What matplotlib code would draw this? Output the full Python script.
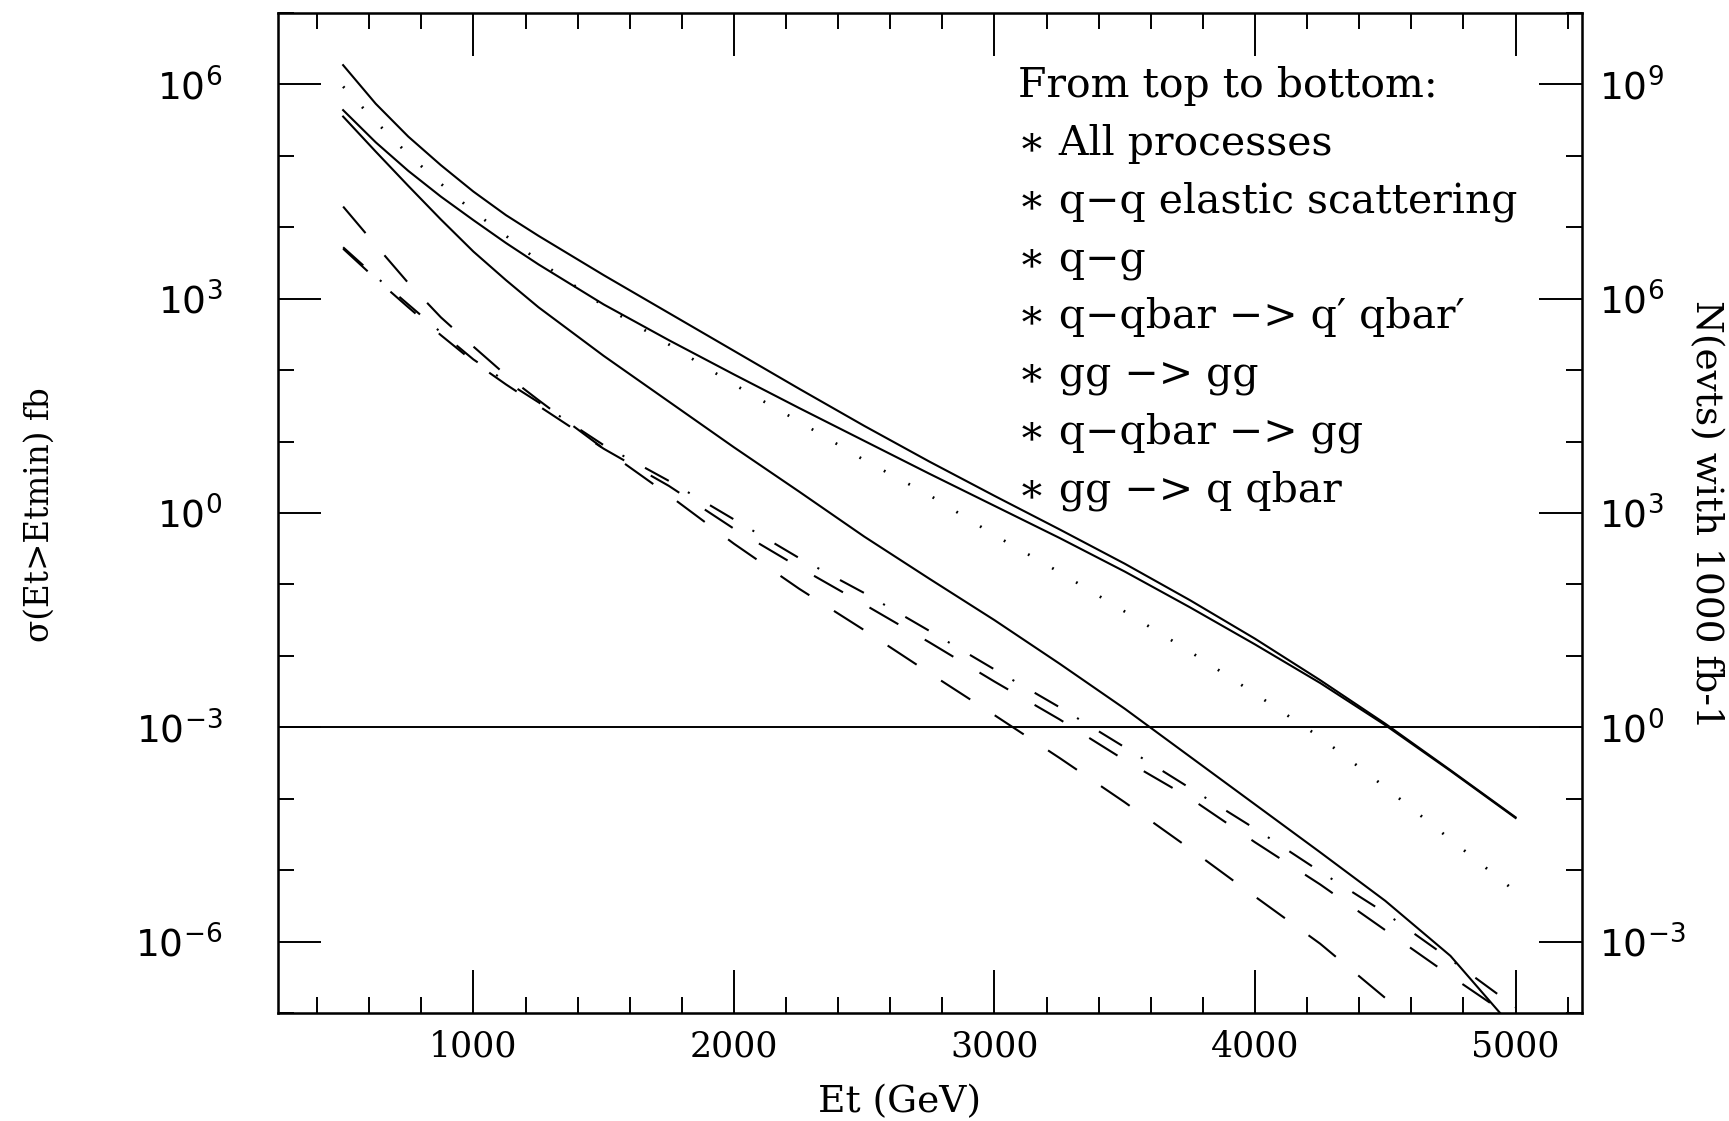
import numpy as np
import matplotlib
matplotlib.use("Agg")
import matplotlib.pyplot as plt
from matplotlib.ticker import FixedLocator, MultipleLocator, NullFormatter

plt.rcParams['font.family'] = ['DejaVu Serif', 'DejaVu Sans']
plt.rcParams['mathtext.fontset'] = 'dejavusans'
plt.rcParams['lines.scale_dashes'] = False

# Et threshold (GeV) and log10 of sigma(Et>Etmin) in fb for each process
et = [500, 625, 750, 875, 1000, 1125, 1250, 1500, 1750, 2000, 2250, 2500,
      2750, 3000, 3250, 3500, 3750, 4000, 4250, 4500, 4750, 5000]

log_all = [6.27, 5.73, 5.27, 4.87, 4.50, 4.17, 3.88, 3.33, 2.80, 2.27, 1.74,
           1.22, 0.72, 0.24, -0.23, -0.71, -1.22, -1.76, -2.34, -2.95, -3.60, -4.26]
log_qq = [5.64, 5.19, 4.79, 4.43, 4.10, 3.78, 3.48, 2.92, 2.42, 1.94, 1.47,
          1.01, 0.55, 0.10, -0.35, -0.82, -1.32, -1.84, -2.38, -2.97, -3.61, -4.27]
log_qg = [5.97, 5.48, 5.02, 4.61, 4.22, 3.88, 3.53, 2.90, 2.36, 1.80, 1.28,
          0.74, 0.25, -0.31, -0.83, -1.38, -1.94, -2.53, -3.14, -3.84, -4.57, -5.30]
log_gggg = [5.55, 5.06, 4.58, 4.11, 3.66, 3.26, 2.88, 2.20, 1.56, 0.92, 0.30,
            -0.33, -0.92, -1.50, -2.11, -2.74, -3.41, -4.08, -4.75, -5.43, -6.20, -7.25]
log_qqb_gg = [3.72, 3.31, 2.92, 2.53, 2.15, 1.84, 1.55, 0.95, 0.45, -0.09, -0.63,
              -1.12, -1.65, -2.19, -2.72, -3.28, -3.85, -4.42, -5.02, -5.60, -6.25, -6.92]
log_gg_qqb = [3.70, 3.28, 2.88, 2.49, 2.12, 1.80, 1.50, 0.90, 0.38, -0.22, -0.76,
              -1.28, -1.81, -2.36, -2.89, -3.46, -3.99, -4.61, -5.20, -5.84, -6.48, -7.10]
log_qqb_qq = [4.29, 3.75, 3.22, 2.74, 2.33, 1.93, 1.58, 0.90, 0.25, -0.43, -1.06,
              -1.64, -2.24, -2.83, -3.43, -4.05, -4.70, -5.37, -6.03, -6.79, -7.55, -8.30]

legend_lines = ["From top to bottom:",
                "\u2217 All processes",
                "\u2217 q\u2212q elastic scattering",
                "\u2217 q\u2212g",
                "\u2217 q\u2212qbar \u2212> q\u2032 qbar\u2032",
                "\u2217 gg \u2212> gg",
                "\u2217 q\u2212qbar \u2212> gg",
                "\u2217 gg \u2212> q qbar"]

left_ticks = [1e-6, 1e-3, 1e0, 1e3, 1e6]
left_labels = [r'$10^{-6}$', r'$10^{-3}$', r'$10^{0}$', r'$10^{3}$', r'$10^{6}$']
right_ticks = [1e-3, 1e0, 1e3, 1e6, 1e9]
right_labels = [r'$10^{-3}$', r'$10^{0}$', r'$10^{3}$', r'$10^{6}$', r'$10^{9}$']
lumi = 1000.0  # fb-1

fig = plt.figure(figsize=(17.29, 11.21), dpi=100)
ax = fig.add_axes([278 / 1729, 1 - 1013 / 1121, 1304 / 1729, 1000 / 1121])

k = dict(color='k', lw=1.5)
ax.plot(et, 10 ** np.array(log_all), **k)
ax.plot(et, 10 ** np.array(log_qq), **k)
ax.plot(et, 10 ** np.array(log_qg), color='k', lw=2.0, dashes=(1.3, 18.7),
        dash_capstyle='butt')
ax.plot(et, 10 ** np.array(log_gggg), **k)
ax.plot(et, 10 ** np.array(log_qqb_gg), color='k', lw=1.5,
        dashes=(19.5, 16, 1.5, 17))
ax.plot(et, 10 ** np.array(log_gg_qqb), color='k', lw=1.5, dashes=(24, 22))
ax.plot(et, 10 ** np.array(log_qqb_qq), color='k', lw=1.5, dashes=(25, 21))

# one event with 1000 fb-1
ax.axhline(1e-3, color='k', lw=1.4)

ax.set_yscale('log')
ax.set_xlim(250, 5255)
ax.set_ylim(1e-7, 1e7)

ax.set_xticks([1000, 2000, 3000, 4000, 5000])
ax.xaxis.set_minor_locator(MultipleLocator(200))
ax.set_yticks(left_ticks)
ax.set_yticklabels(left_labels)
ax.yaxis.set_minor_locator(FixedLocator([10.0 ** e for e in range(-7, 8) if e % 3 != 0]))
ax.yaxis.set_minor_formatter(NullFormatter())

ax.tick_params(which='both', direction='in', top=True, right=False, width=1.4)
ax.tick_params(which='major', length=31)
ax.tick_params(which='minor', length=11.5)
ax.tick_params(axis='x', which='major', pad=12, labelsize=25)
ax.tick_params(axis='y', which='major', pad=40, labelsize=27)
for s in ax.spines.values():
    s.set_linewidth(1.8)

ax2 = ax.twinx()
ax2.set_yscale('log')
ax2.set_ylim(1e-7 * lumi, 1e7 * lumi)
ax2.set_yticks(right_ticks)
ax2.set_yticklabels(right_labels)
ax2.yaxis.set_minor_locator(FixedLocator([10.0 ** e for e in range(-4, 11) if e % 3 != 0]))
ax2.yaxis.set_minor_formatter(NullFormatter())
ax2.tick_params(which='both', direction='in', width=1.4)
ax2.tick_params(which='major', length=31, pad=12, labelsize=27)
ax2.tick_params(which='minor', length=11.5)

for i, line in enumerate(legend_lines):
    ax.text(0.5675, 0.916 - i * 0.0578, line, transform=ax.transAxes,
            fontsize=29.5, ha='left', va='baseline')

fig.text(900 / 1729, 1 - 1102 / 1121, 'Et (GeV)', ha='center', va='center',
         fontsize=27)
fig.text(40 / 1729, 1 - 515 / 1121, '\u03c3(Et>Etmin) fb', rotation=90,
         ha='center', va='center', fontsize=23.5)
fig.text(1706 / 1729, 1 - 515 / 1121, 'N(evts) with 1000 fb-1', rotation=-90,
         ha='center', va='center', fontsize=27)

fig.savefig('out.png', dpi=100)
